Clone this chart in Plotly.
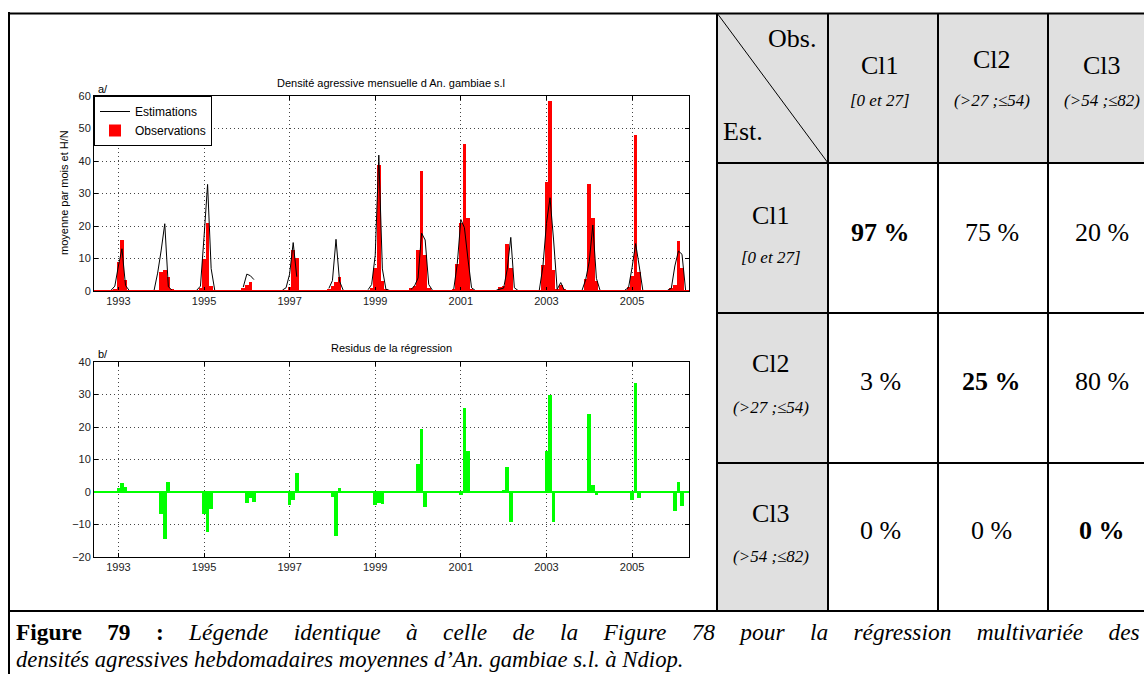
import plotly.graph_objects as go

W, H = 1144, 674

# ---------------- data ----------------
# monthly series start mid-1992; month k is centred at 1992.5 + k/12
n_months = 166
first_month = 1992.5
season_years = [1993, 1994, 1995, 1996, 1997, 1998, 1999, 2000, 2001, 2002, 2003, 2004, 2005, 2006]
# values for month offsets -2 .. +5 around the month of each year tick
obs_season = [
    [0.2, 0.5, 8.9, 15.7, 3.3, 0.3, 0, 0],
    [0, 0.3, 5.9, 6.4, 4.4, 0.5, 0.3, 0],
    [0.3, 1.0, 9.8, 20.9, 1.6, 0.3, 0, 0],
    [0, 0.8, 1.7, 2.8, 0.3, 0, 0, 0],
    [0, 0.3, 1.3, 12.6, 10.3, 0, 0, 0],
    [0.3, 0.5, 1.6, 2.9, 4.2, 0, 0, 0],
    [0.3, 0.8, 7.0, 38.7, 3.2, 0.5, 0, 0],
    [0.8, 1.5, 12.6, 37.0, 11.1, 0.8, 0, 0],
    [0.5, 8.4, 21.0, 45.3, 22.5, 0.5, 0, 0],
    [0, 1.1, 1.6, 14.4, 7.2, 0.3, 0, 0],
    [0.3, 7.9, 33.5, 58.5, 6.4, 0.5, 1.8, 0.5],
    [0, 3.8, 33.0, 22.6, 3.1, 0, 0, 0],
    [0, 1.2, 4.6, 47.9, 5.8, 0.3, 0, 0],
    [0, 0.9, 1.9, 15.3, 7.1, 0.2, None, None],
]
est_season = [
    [0.3, 1.5, 7.7, 13.0, 1.7, 0.2, None, None],
    [0.2, 5.5, 12.6, 20.7, 1.3, 0.3, None, None],
    [0.3, 1.5, 16.5, 32.8, 6.9, 0.3, None, None],
    [None, 1.2, 5.2, 4.7, 3.5, None, None, None],
    [0.3, 1.0, 5.2, 14.9, 4.4, None, None, None],
    [None, 0.8, 3.2, 15.9, 3.0, 0.3, None, None],
    [0.4, 2.0, 11.0, 41.8, 6.8, 0.5, 0.2, None],
    [0.5, 1.5, 4.0, 17.8, 15.7, 2.0, 0.3, None],
    [0.5, 8.4, 22.0, 19.5, 9.8, 1.0, 0.2, None],
    [0.3, 0.5, 0.9, 6.7, 16.5, 1.0, 0.2, None],
    [0.3, 7.5, 20.8, 28.7, 15.7, 0.5, 2.6, 0.3],
    [0.3, 3.5, 9.1, 20.3, 3.9, 0.3, None, None],
    [0.3, 1.0, 7.2, 14.6, 7.7, 0.3, None, None],
    [0.3, 0.8, 7.7, 12.3, 11.3, 0.3, None, None],
]
res_season = [
    [0, 0, 1.2, 2.8, 1.6, 0, 0, 0],
    [0, 0, -6.7, -14.5, 3.1, 0, 0, 0],
    [0, 0, -6.7, -12.2, -5.3, 0, 0, 0],
    [0, 0, -3.5, -1.9, -3.2, 0, 0, 0],
    [0, 0, -3.9, -2.6, 5.9, 0, 0, 0],
    [0, 0, -1.6, -13.4, 1.2, 0, 0, 0],
    [0, 0, -4.0, -3.3, -3.6, 0, 0, 0],
    [0, 0, 8.6, 19.3, -4.6, 0, 0, 0],
    [0, 0, -1.0, 25.8, 12.6, 0, 0, 0],
    [0, 0, 0.7, 7.7, -9.3, 0, 0, 0],
    [0, 0, 12.6, 29.9, -9.3, 0, 0, 0],
    [0, 0, 23.9, 2.3, -0.8, 0, 0, 0],
    [0, 0, -2.6, 33.4, -1.9, 0, 0, 0],
    [0, 0, -5.8, 3.0, -4.2, 0, None, None],
]
year_ticks = [1993, 1995, 1997, 1999, 2001, 2003, 2005]
year_tick_labels = ["1993", "1995", "1997", "1999", "2001", "2003", "2005"]

# confusion table
table_cols = ["Cl1", "Cl2", "Cl3"]
table_ranges = ["[0 et 27]", "(>27 ;≤54)", "(>54 ;≤82)"]
table_values = [["97 %", "75 %", "20 %"],
                ["3 %", "25 %", "80 %"],
                ["0 %", "0 %", "0 %"]]
caption_bold = "Figure 79 :"
caption_line1 = "Légende identique à celle de la Figure 78 pour la régression multivariée des"
caption_line2 = "densités agressives hebdomadaires moyennes d’An. gambiae s.l. à Ndiop."

# ---------------- build monthly arrays ----------------
t = [first_month + k / 12 for k in range(n_months)]
obs = [0.0] * n_months
est = [None] * n_months
res = [0.0] * n_months
for yi, yr in enumerate(season_years):
    m0 = int(round((yr - first_month) * 12))
    for j in range(8):
        k = m0 - 2 + j
        if 0 <= k < n_months:
            if obs_season[yi][j] is not None:
                obs[k] = obs_season[yi][j]
            est[k] = est_season[yi][j]
            if res_season[yi][j] is not None:
                res[k] = res_season[yi][j]

# ---------------- geometry helpers ----------------
def px(x):
    return x / W

def py(y):
    return 1 - y / H

SANS = "Liberation Sans"
SERIF = "Liberation Serif"

fig = go.Figure()
fig.add_trace(go.Bar(x=t, y=obs, width=1 / 12 * 1.04, marker=dict(color="#ff0000", line=dict(width=0)),
                     name="Observations", legendrank=2, xaxis="x", yaxis="y"))
fig.add_trace(go.Scatter(x=t, y=est, mode="lines", line=dict(color="black", width=1),
                         name="Estimations", legendrank=1, connectgaps=False, xaxis="x", yaxis="y"))
fig.add_trace(go.Bar(x=t, y=res, width=1 / 12 * 1.04, marker=dict(color="#00ff00", line=dict(width=0)),
                     showlegend=False, xaxis="x2", yaxis="y2"))

xr = [1992.43, 2006.33]
axis_common = dict(showline=True, linecolor="black", linewidth=1, mirror="ticks", ticks="inside",
                   ticklen=4, tickcolor="black", showgrid=True, gridcolor="#444444", griddash="1px,3px",
                   gridwidth=1, zeroline=False, tickfont=dict(family=SANS, size=11, color="#222"))

fig.update_layout(
    width=W, height=H, margin=dict(l=0, r=0, t=0, b=0, pad=0, autoexpand=False),
    paper_bgcolor="white", plot_bgcolor="white", bargap=0,
    xaxis=dict(domain=[px(94), px(689)], anchor="y", range=xr, tickvals=year_ticks,
               ticktext=year_tick_labels, **axis_common),
    yaxis=dict(domain=[py(291), py(96)], anchor="x", range=[0, 60], tickvals=[0, 10, 20, 30, 40, 50, 60],
               **axis_common),
    xaxis2=dict(domain=[px(94), px(689)], anchor="y2", range=xr, tickvals=year_ticks,
                ticktext=year_tick_labels, **axis_common),
    yaxis2=dict(domain=[py(557), py(362)], anchor="x2", range=[-20, 40],
                tickvals=[-20, -10, 0, 10, 20, 30, 40], **axis_common),
    legend=dict(x=px(94), y=py(96), xanchor="left", yanchor="top", bgcolor="white",
                bordercolor="black", borderwidth=1, font=dict(family=SANS, size=12, color="black"),
                tracegroupgap=0, itemwidth=30),
    showlegend=True,
)

shapes = []
# zero baselines
shapes.append(dict(type="line", xref="x domain", yref="y", x0=0, x1=1, y0=0, y1=0,
                   line=dict(color="#ff0000", width=2)))
shapes.append(dict(type="line", xref="x2 domain", yref="y2", x0=0, x1=1, y0=0, y1=0,
                   line=dict(color="#00ff00", width=2)))
# table fills
GRAY = "#e0e0e0"
shapes.append(dict(type="rect", xref="paper", yref="paper", x0=px(717), x1=px(1150), y0=py(163), y1=py(13),
                   fillcolor=GRAY, line=dict(width=0), layer="below"))
shapes.append(dict(type="rect", xref="paper", yref="paper", x0=px(717), x1=px(828), y0=py(611), y1=py(163),
                   fillcolor=GRAY, line=dict(width=0), layer="below"))

def hline(y, x0, x1, w=2):
    shapes.append(dict(type="line", xref="paper", yref="paper", x0=px(x0), x1=px(x1), y0=py(y), y1=py(y),
                       line=dict(color="black", width=w)))

def vline(x, y0, y1, w=2):
    shapes.append(dict(type="line", xref="paper", yref="paper", x0=px(x), x1=px(x), y0=py(y0), y1=py(y1),
                       line=dict(color="black", width=w)))

hline(13.5, 8, 1150)
hline(611, 8, 1150)
vline(9, 12, 680)
vline(717, 13, 611)
for yy in [163, 313, 463]:
    hline(yy, 717, 1150)
for xx in [828, 938, 1048]:
    vline(xx, 13, 611)
shapes.append(dict(type="line", xref="paper", yref="paper", x0=px(717), x1=px(828), y0=py(13), y1=py(163),
                   line=dict(color="black", width=1)))
fig.update_layout(shapes=shapes)

ann = []

def text(x, y, s, size, family=SANS, xanchor="center", color="black", angle=0):
    ann.append(dict(xref="paper", yref="paper", x=px(x), y=py(y), text=s, showarrow=False,
                    xanchor=xanchor, yanchor="middle", textangle=angle,
                    font=dict(family=family, size=size, color=color)))

text(391, 83, "Densité agressive mensuelle d An. gambiae s.l", 11)
text(96, 89, "a/", 11, xanchor="left")
text(391, 348, "Residus de la régression", 11)
text(96, 354, "b/", 11, xanchor="left")
text(64, 193, "moyenne par mois et H/N", 11, angle=-90)

# table texts
text(792, 39, "Obs.", 26, SERIF)
text(743, 131, "Est.", 26, SERIF)
col_x = [880, 992, 1102]
head_y = [65, 60, 65]
for i, c in enumerate(table_cols):
    text(col_x[i], head_y[i], c, 26, SERIF)
    text(col_x[i], 100, "<i>" + table_ranges[i] + "</i>", 17, SERIF)
label_y = [216, 363, 513]
range_y = [257, 407, 556]
value_y = [232, 381, 530]
for i, c in enumerate(table_cols):
    text(771, label_y[i], c, 26, SERIF)
    text(771, range_y[i], "<i>" + table_ranges[i] + "</i>", 17, SERIF)
    for j in range(3):
        v = table_values[i][j]
        if i == j:
            v = "<b>" + v + "</b>"
        text(col_x[j], value_y[i], v, 26, SERIF)

# caption (first line justified to the full width)
gap = " " + "\u00a0" * 3 + "\u200a"
line1 = "<b>" + gap.join(caption_bold.split(" ")) + "</b>" + gap + "<i>" + gap.join(caption_line1.split(" ")) + "</i>"
text(14, 632, line1, 23.4, SERIF, xanchor="left")
text(14, 659, "<i>" + caption_line2 + "</i>", 22.7, SERIF, xanchor="left")

fig.update_layout(annotations=ann)
fig.write_html("out.html", config={"displayModeBar": False},
               post_script="document.body.style.margin='0px';document.body.style.overflow='hidden';")
